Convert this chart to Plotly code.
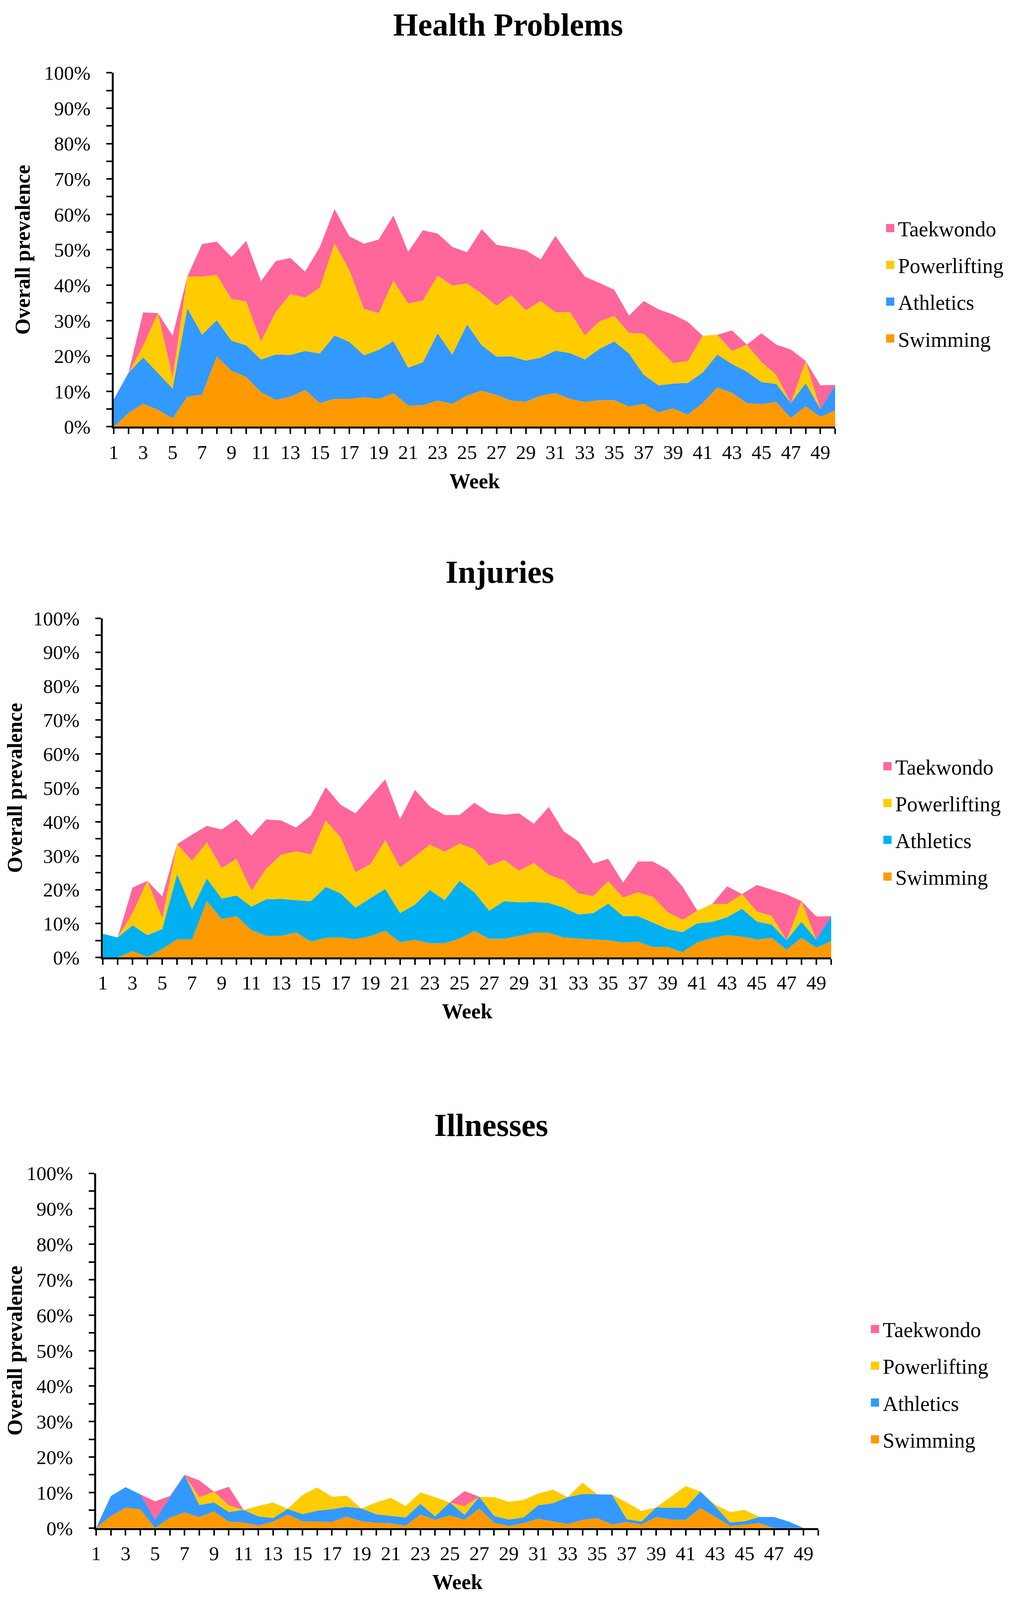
import plotly.graph_objects as go

# weekly prevalence (%) per sport
weeks = list(range(1, 51))
sports = ["Swimming", "Athletics", "Powerlifting", "Taekwondo"]

hp_swimming = [0, 3.9, 6.5, 4.8, 2.4, 8.5, 9.1, 19.9, 15.8, 14.1, 9.8, 7.6, 8.5, 10.4, 6.7, 7.9, 7.9, 8.3, 7.9, 9.5,
               6.0, 6.1, 7.4, 6.5, 8.8, 10.2, 9.0, 7.4, 7.1, 8.8, 9.5, 7.9, 7.0, 7.5, 7.5, 5.7, 6.5, 4.1, 5.2, 3.4,
               6.7, 11.1, 9.6, 6.7, 6.4, 7.0, 2.5, 5.8, 2.8, 4.6]
hp_athletics = [7.7, 11.3, 13.1, 10.4, 8.4, 25.0, 16.9, 10.2, 8.5, 8.9, 9.2, 12.8, 11.8, 11.0, 14.0, 17.9, 16.1, 11.9, 13.8, 14.7,
                10.7, 12.1, 19.0, 13.9, 20.1, 12.8, 10.8, 12.5, 11.6, 10.7, 12.0, 12.9, 12.0, 14.5, 16.6, 15.0, 8.2, 7.6, 7.0, 9.0,
                8.6, 9.3, 8.1, 8.9, 6.2, 5.1, 4.2, 6.5, 2.2, 7.2]
hp_powerlifting = [0, 0, 3.3, 16.9, 3.2, 8.9, 16.4, 12.8, 11.8, 12.4, 5.1, 12.0, 17.2, 15.1, 18.6, 26.0, 20.3, 13.1, 10.4, 17.1,
                   18.1, 17.5, 16.3, 19.5, 11.6, 14.6, 14.4, 17.3, 14.2, 16.0, 10.9, 11.6, 6.8, 7.8, 7.2, 5.8, 11.6, 10.4, 5.8, 6.2,
                   10.4, 5.6, 3.7, 7.6, 5.7, 2.6, 0, 6.3, 0, 0]
hp_taekwondo = [0, 0, 9.4, 0, 11.7, 0, 9.2, 9.4, 11.8, 17.1, 17.0, 14.4, 10.2, 7.3, 11.5, 9.7, 9.5, 18.4, 20.8, 18.4,
                14.6, 19.8, 11.9, 10.9, 8.8, 18.2, 17.2, 13.5, 16.9, 11.8, 21.5, 15.6, 16.6, 10.8, 7.4, 4.9, 9.2, 11.1, 13.7, 11.0,
                0, 0, 5.8, 0, 8.1, 8.5, 15.1, 0, 6.7, 0]

inj_swimming = [0, 0, 1.9, 0.2, 2.5, 5.4, 5.3, 16.6, 11.3, 12.2, 8.1, 6.4, 6.4, 7.4, 4.7, 5.8, 5.9, 5.4, 6.3, 7.9,
                4.5, 5.2, 4.2, 4.2, 5.6, 7.8, 5.5, 5.5, 6.4, 7.3, 7.3, 5.9, 5.6, 5.3, 5.1, 4.4, 4.7, 3.1, 3.1, 1.6,
                4.5, 5.8, 6.6, 6.2, 5.3, 5.8, 2.3, 5.8, 2.9, 4.8]
inj_athletics = [7.0, 5.9, 7.6, 6.4, 5.9, 19.2, 8.9, 6.7, 6.1, 6.1, 6.9, 10.8, 10.9, 9.5, 11.9, 15.0, 13.0, 9.3, 11.2, 12.3,
                 8.6, 10.4, 15.7, 12.7, 17.0, 11.4, 8.3, 11.1, 9.9, 9.1, 8.8, 8.8, 7.1, 7.8, 10.8, 7.8, 7.5, 7.2, 5.3, 5.9,
                 5.6, 4.7, 5.3, 8.2, 5.3, 3.9, 2.8, 4.8, 2.3, 7.4]
inj_powerlifting = [0, 0, 3.6, 16.0, 3.3, 8.8, 14.4, 10.6, 9.0, 10.8, 4.7, 9.0, 13.0, 14.4, 13.8, 19.6, 16.5, 10.5, 10.0, 14.4,
                    13.5, 14.2, 13.4, 14.3, 11.0, 12.7, 13.2, 12.2, 9.3, 11.5, 8.3, 8.1, 6.2, 5.0, 6.6, 5.5, 7.0, 7.6, 5.0, 3.6,
                    3.7, 5.3, 3.9, 4.3, 3.0, 2.6, 0, 6.0, 0, 0]
inj_taekwondo = [0, 0, 7.5, 0, 6.3, 0, 7.6, 4.9, 11.3, 11.7, 16.2, 14.5, 10.1, 7.0, 11.5, 9.8, 9.6, 17.3, 20.0, 17.9,
                 14.2, 19.6, 11.2, 10.8, 8.4, 13.7, 15.7, 13.3, 16.9, 11.5, 20.0, 14.4, 15.3, 9.6, 6.6, 4.4, 9.1, 10.4, 12.5, 9.8,
                 0, 0, 5.2, 0, 7.8, 7.7, 13.5, 0, 6.9, 0]

ill_swimming = [0, 3.4, 5.7, 5.3, 0, 2.9, 4.4, 3.1, 4.7, 1.8, 1.6, 0.7, 1.8, 3.8, 1.9, 1.8, 1.7, 3.2, 1.9, 1.5,
                1.3, 0.7, 3.8, 2.3, 3.6, 2.3, 5.5, 1.5, 0.6, 1.4, 2.6, 1.9, 1.1, 2.3, 2.8, 1.0, 1.7, 1.0, 3.1, 2.4,
                2.3, 5.6, 3.2, 0.6, 0.9, 1.4, 0, 0, 0, 0]
ill_athletics = [0, 5.6, 5.8, 4.2, 2.3, 5.7, 10.6, 3.4, 2.5, 2.7, 3.5, 2.6, 1.0, 1.6, 2.0, 3.1, 3.6, 2.8, 3.6, 2.4,
                 2.1, 2.3, 3.0, 1.0, 3.6, 1.4, 3.3, 1.9, 1.8, 1.6, 3.8, 5.1, 7.6, 7.3, 6.7, 8.4, 0.8, 0.8, 2.7, 3.3,
                 3.4, 4.7, 3.0, 1.0, 1.0, 1.7, 3.1, 1.8, 0, 0]
ill_powerlifting = [0, 0, 0, 0, 0, 0, 0, 2.2, 3.0, 1.9, 0, 2.9, 4.4, 0, 5.4, 6.5, 3.5, 3.1, 0, 3.3,
                    5.1, 3.2, 3.2, 5.4, 0, 2.5, 0, 5.3, 5.0, 4.9, 3.3, 3.8, 0, 3.2, 0, 0, 4.7, 3.0, 0, 3.1,
                    6.1, 0, 0.4, 2.9, 3.2, 0, 0, 0, 0, 0]
ill_taekwondo = [0, 0, 0, 0, 5.2, 0.4, 0, 4.7, 0, 5.2, 0, 0, 0, 0, 0, 0, 0, 0, 0, 0,
                 0, 0, 0, 0, 0, 4.2, 0, 0, 0, 0, 0, 0, 0, 0, 0, 0, 0, 0, 0, 0,
                 0, 0, 0, 0, 0, 0, 0, 0, 0, 0]

# the visible page is shorter than the window, so the figure is sized to fit it
PAGE_MARGIN = 8
W, H = 2566, 4080

# reference rows of the top title and the lowest "Week" map to rows that keep both texts inside the figure
REF_TOP, REF_BOTTOM = 32, 4268
FIG_TOP, FIG_BOTTOM = 56, H - 38
K = (FIG_BOTTOM - FIG_TOP) / (REF_BOTTOM - REF_TOP)
A = FIG_TOP - REF_TOP * K


def fig_y(yr):
    # reference pixel row -> pixel row inside the figure
    return A + K * yr


def px(xr):
    return (xr - PAGE_MARGIN) / W


def py_fig(yf):
    return 1 - yf / H


def py(yr):
    return py_fig(fig_y(yr))


FONT = "Liberation Serif"
PINK, YELLOW, BLUE, CYAN, ORANGE = "#FF6699", "#FFCC00", "#3399FF", "#00B0F0", "#FF9900"

# positions in reference pixels: plot box (left, right, top, bottom),
# legend text start / first row, title centre, "Week" centre row
panels = [
    dict(title="Health Problems", series=[hp_swimming, hp_athletics, hp_powerlifting, hp_taekwondo],
         colors=[ORANGE, BLUE, YELLOW, PINK], box=(291, 2137, 162, 1125),
         legend_xy=(2303, 586), title_xy=(1300, 32), week_y=1273),
    dict(title="Injuries", series=[inj_swimming, inj_athletics, inj_powerlifting, inj_taekwondo],
         colors=[ORANGE, CYAN, YELLOW, PINK], box=(263, 2127, 1646, 2569),
         legend_xy=(2296, 2050), title_xy=(1279, 1520), week_y=2715),
    dict(title="Illnesses", series=[ill_swimming, ill_athletics, ill_powerlifting, ill_taekwondo],
         colors=[ORANGE, BLUE, YELLOW, PINK], box=(246, 2094, 3156, 4121),
         legend_xy=(2264, 3581), title_xy=(1257, 3025), week_y=4268),
]

fig = go.Figure()
layout = {}
annotations = []

for i, p in enumerate(panels):
    n = "" if i == 0 else str(i + 1)
    xa, ya, lg = "x" + n, "y" + n, "legend" + n

    # stacked areas, Swimming at the bottom
    for name, vals, col in zip(sports, p["series"], p["colors"]):
        fig.add_trace(go.Scatter(
            x=weeks, y=vals, name=name, stackgroup="s" + str(i), mode="none",
            fillcolor=col, showlegend=False, xaxis=xa, yaxis=ya,
        ))
    # legend entries as squares, Taekwondo on top
    for name, col in reversed(list(zip(sports, p["colors"]))):
        fig.add_trace(go.Scatter(
            x=[None], y=[None], name=name, mode="markers", legend=lg,
            legendgroup=lg + name, xaxis=xa, yaxis=ya,
            marker=dict(symbol="square", size=16, color=col, line=dict(color=col, width=5)),
        ))

    l, r, t, b = p["box"]
    tick_style = dict(ticks="outside", ticklen=14, tickwidth=4, tickcolor="black",
                      showline=True, linecolor="black", linewidth=5,
                      showgrid=False, zeroline=False,
                      tickfont=dict(family=FONT, size=51, color="black"))
    layout["xaxis" + n] = dict(
        domain=[px(l), px(r)], anchor=ya, range=[1, 50],
        tickmode="array", tickvals=list(range(1, 50, 2)),
        minor=dict(tickmode="linear", tick0=1, dtick=1, ticks="outside",
                   ticklen=14, tickwidth=4, tickcolor="black"),
        ticklabelstandoff=2,
        **tick_style,
    )
    layout["yaxis" + n] = dict(
        domain=[py(b), py(t)], anchor=xa, range=[0, 100],
        tickmode="linear", tick0=0, dtick=10, ticksuffix="%",
        minor=dict(tickmode="linear", tick0=0, dtick=5, ticks="outside",
                   ticklen=14, tickwidth=4, tickcolor="black"),
        ticklabelstandoff=30,
        title=dict(text="<b>Overall prevalence</b>", font=dict(family=FONT, size=54, color="black"), standoff=20),
        **tick_style,
    )
    lx, ly = p["legend_xy"]
    legend_top = fig_y(ly) - 43
    layout[lg] = dict(x=px(lx - 45), y=py_fig(legend_top), xanchor="left", yanchor="top",
                      traceorder="grouped", tracegroupgap=21, bgcolor="rgba(0,0,0,0)",
                      font=dict(family=FONT, size=54, color="black"))

    tx, ty = p["title_xy"]
    annotations.append(dict(text="<b>" + p["title"] + "</b>", x=px(tx), y=py(ty),
                            xref="paper", yref="paper", xanchor="center", yanchor="middle",
                            showarrow=False, font=dict(family=FONT, size=82, color="black")))
    # x-axis title
    annotations.append(dict(text="<b>Week</b>", x=px((l + r) / 2), y=py(p["week_y"]),
                            xref="paper", yref="paper", xanchor="center", yanchor="middle",
                            showarrow=False, font=dict(family=FONT, size=54, color="black")))

fig.update_layout(
    width=W, height=H, autosize=False,
    margin=dict(l=0, r=0, t=0, b=0),
    template="none",
    paper_bgcolor="white", plot_bgcolor="white",
    font=dict(family=FONT, color="black"),
    annotations=annotations,
    **layout,
)

fig.write_html("out.html")
